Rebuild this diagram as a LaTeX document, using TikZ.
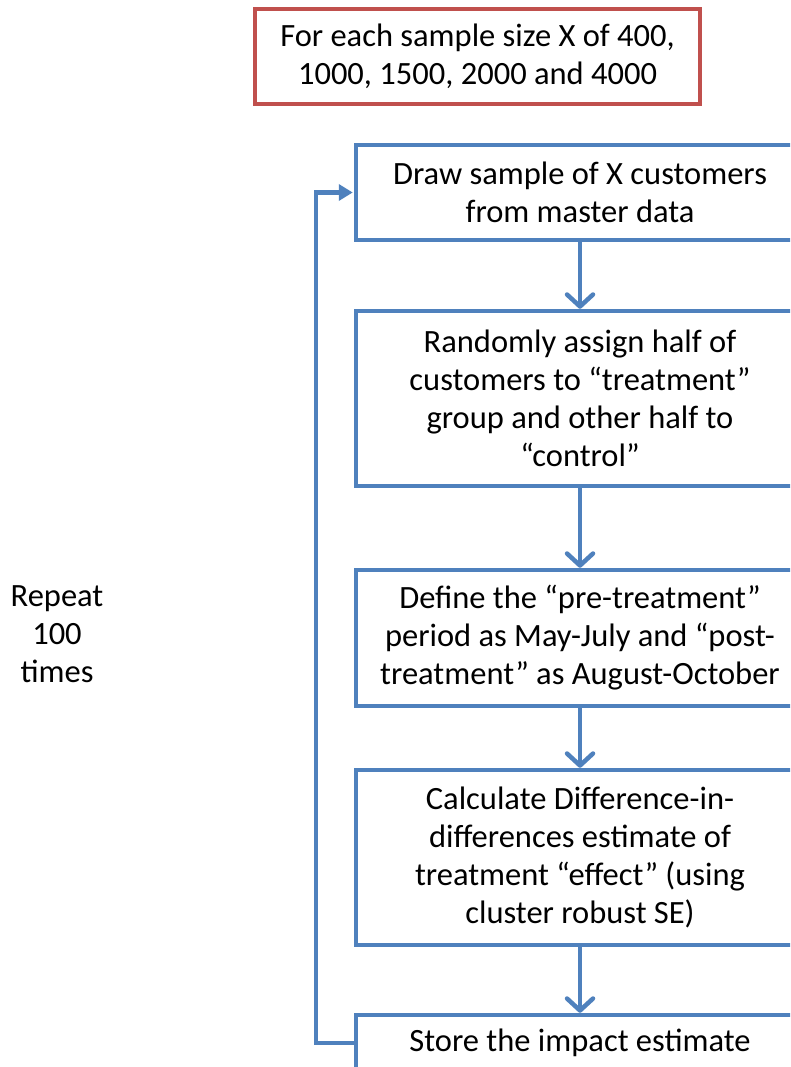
\documentclass[tikz,border=0pt]{standalone}
\usepackage{fontspec}
\setmainfont{Carlito}
\usetikzlibrary{arrows.meta}
\definecolor{obl}{HTML}{4F81BD}
\definecolor{ord}{HTML}{C0504D}
\begin{document}
\begin{tikzpicture}[x=1pt,y=-1pt,
  txt/.style={font=\fontsize{32.5}{38}\selectfont, align=center, text=black},
  bluebox/.style={txt, draw=obl, line width=4.5pt, fill=white, inner sep=0pt, minimum width=448pt},
  flow/.style={draw=obl, line width=4.5pt, -{Straight Barb[length=12pt,width=26pt,line cap=round,line join=round]}}
]
\clip (0,0) rectangle (790,1067);
\useasboundingbox (0,0) rectangle (790,1067);

\node[txt, draw=ord, line width=3.5pt, inner sep=0pt, minimum width=445pt, minimum height=95pt] (top) at (477.5,56.5)
  {For each sample size X of 400,\\1000, 1500, 2000 and 4000};

\node[bluebox, minimum height=95pt] (b1) at (580,192.5)
  {Draw sample of X customers\\from master data};
\node[bluebox, minimum height=175pt] (b2) at (580,398.5)
  {Randomly assign half of\\customers to “treatment”\\group and other half to\\“control”};
\node[bluebox, minimum height=136pt] (b3) at (580,638)
  {Define the “pre-treatment”\\period as May-July and “post-\\treatment” as August-October};
\node[bluebox, minimum height=175pt] (b4) at (580,857.5)
  {Calculate Difference-in-\\differences estimate of\\treatment “effect” (using\\cluster robust SE)};
\node[bluebox, minimum height=56pt] (b5) at (580,1043)
  {Store the impact estimate};

\node[txt] (rep) at (57,634) {Repeat\\100\\times};

\draw[flow] (b1.south) -- (b2.north);
\draw[flow] (b2.south) -- (b3.north);
\draw[flow] (b3.south) -- (b4.north);
\draw[flow] (b4.south) -- (b5.north);

\draw[draw=obl, line width=4.5pt, -{Triangle[length=14pt,width=16pt]}, shorten >=1pt]
  (b5.west) -- ++(-38,0) |- (b1.west);
\end{tikzpicture}
\end{document}
